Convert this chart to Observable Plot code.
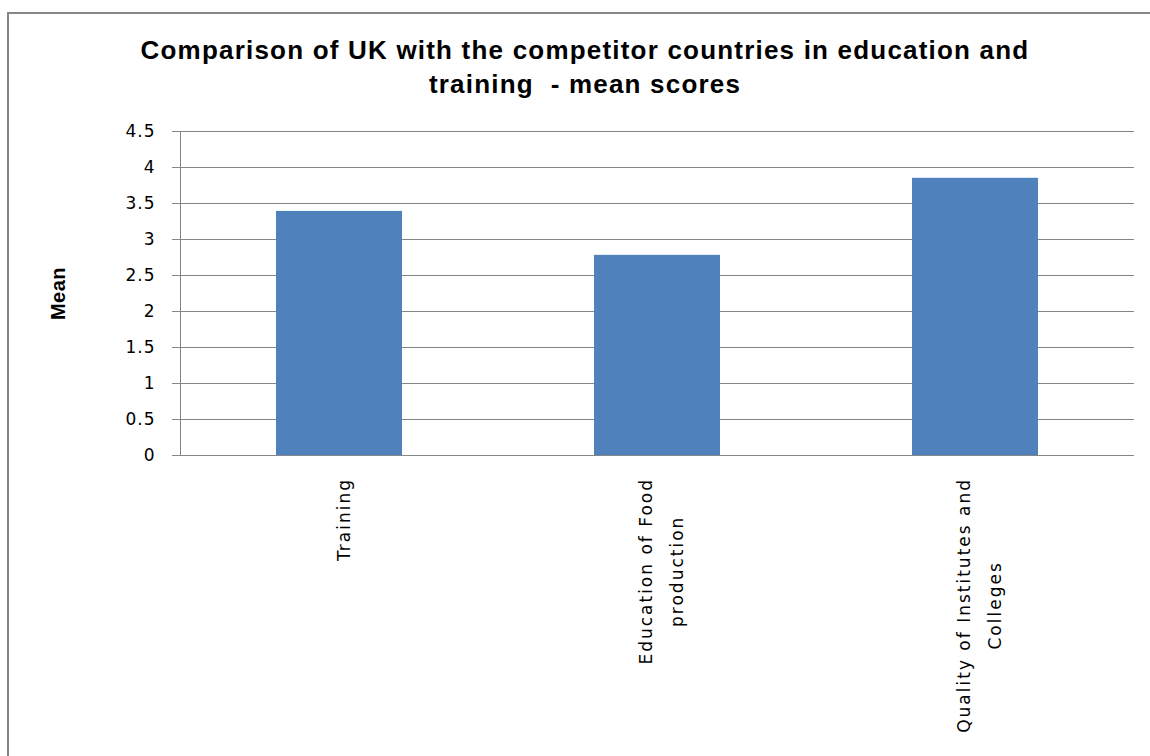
<!DOCTYPE html>
<html>
<head>
<meta charset="utf-8">
<script src="https://cdn.jsdelivr.net/npm/d3@7"></script>
<script src="https://cdn.jsdelivr.net/npm/@observablehq/plot@0.6"></script>
<style>
  html, body { margin: 0; padding: 0; background: #fff; width: 1150px; height: 756px; overflow: hidden; }
  #border { position: absolute; left: 7px; top: 12px; width: 1200px; height: 800px;
            border-left: 2px solid #868686; border-top: 2px solid #868686; box-sizing: border-box; }
  #title { position: absolute; left: 0; top: 33px; width: 1170px; text-align: center;
           font-family: "Liberation Sans", Arial, sans-serif; font-weight: bold; font-size: 26px;
           line-height: 34px; color: #000; letter-spacing: 1.2px; white-space: pre; }
  #chart { position: absolute; left: 0; top: 0; }
  #chart svg text { letter-spacing: 1px; }
  #chart svg .x-labels text { letter-spacing: 2px; }
  #chart svg .mean-label text { letter-spacing: 0.5px; }
</style>
</head>
<body>
<div id="border"></div>
<div id="title">Comparison of UK with the competitor countries in education and
training  - mean scores</div>
<div id="chart"></div>
<script>
const categories = ["Training", "Education of Food\nproduction", "Quality of Institutes and\nColleges"];
const means = [3.39, 2.78, 3.85];
const yTicks = [0, 0.5, 1, 1.5, 2, 2.5, 3, 3.5, 4, 4.5];
const yLabel = "Mean";

const data = categories.map((c, i) => ({category: c, mean: means[i]}));

const chart = Plot.plot({
  width: 1150,
  height: 756,
  marginLeft: 180,
  marginRight: 16,
  marginTop: 131,
  marginBottom: 301,
  style: {fontFamily: "'DejaVu Sans', sans-serif", fontSize: "17px", color: "#000", background: "transparent", overflow: "visible"},
  x: {domain: categories, paddingInner: 0.604, paddingOuter: 0.302, axis: null},
  y: {domain: [0, 4.5], axis: null},
  marks: [
    Plot.gridY(yTicks, {stroke: "#868686", strokeOpacity: 1, strokeWidth: 1}),
    Plot.barY(data, {x: "category", y: "mean", fill: "#4f81bd"}),
    Plot.axisY(yTicks, {anchor: "left", tickSize: 8, tickPadding: 17, stroke: "#868686", fill: "#000", fontSize: 17, label: null, tickFormat: d => String(d)}),
    Plot.frame({anchor: "left", stroke: "#868686", strokeOpacity: 1}),
    Plot.ruleY([0], {stroke: "#868686", strokeOpacity: 1}),
    Plot.text(categories, {x: d => d, frameAnchor: "bottom", text: d => d, rotate: -90, textAnchor: "middle", lineAnchor: "middle", lineHeight: 1.85, fontSize: 17, fill: "#000", className: "x-labels"}),
    Plot.text([yLabel], {frameAnchor: "left", text: d => d, rotate: -90, textAnchor: "middle", lineAnchor: "middle", dx: -122, fontFamily: "'Liberation Sans', Arial, sans-serif", fontWeight: "bold", fontSize: 20, fill: "#000", className: "mean-label"})
  ]
});
document.getElementById("chart").appendChild(chart);

// Top-align the rotated category labels just below the axis (as in the original)
const targetTop = 478;
chart.querySelectorAll(".x-labels text").forEach(t => {
  const r = t.getBoundingClientRect();
  const delta = targetTop - r.top;
  t.setAttribute("transform", `translate(0,${delta}) ` + (t.getAttribute("transform") || ""));
});
</script>
</body>
</html>
